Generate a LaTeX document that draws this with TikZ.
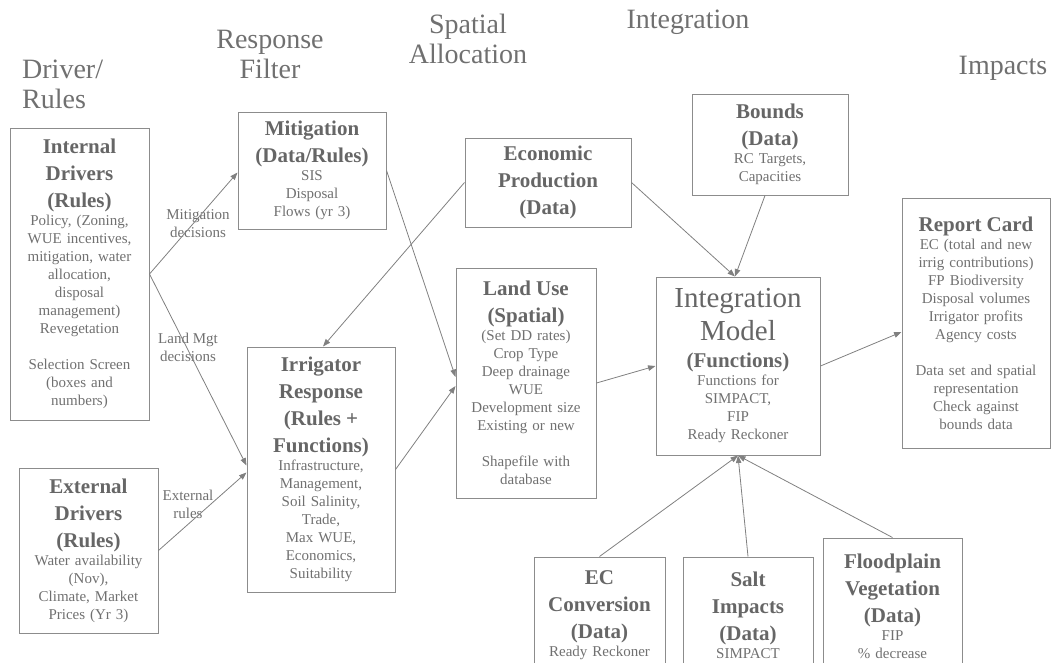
\documentclass[tikz,border=0pt]{standalone}
\usepackage{fontspec}
\setmainfont{Liberation Serif}
\usetikzlibrary{arrows.meta}
\definecolor{flowtext}{RGB}{112,112,112}
\definecolor{flowtitle}{RGB}{102,102,102}
\definecolor{flowline}{RGB}{140,140,140}
\definecolor{flowarrow}{RGB}{128,128,128}
\newcommand\ttl[1]{{\fontsize{21}{27}\selectfont\bfseries\color{flowtitle}#1\par}}
\newcommand\bigttl[1]{{\fontsize{29}{33}\selectfont\color{flowtitle}#1\par}}

\begin{document}
\begin{tikzpicture}[x=1pt,y=-1pt,font=\fontsize{15}{18}\selectfont,
 box/.style={draw=flowline,line width=1pt,align=center,text=flowtext,
  inner xsep=4pt,inner ysep=0pt},
 head/.style={font=\fontsize{28}{30}\selectfont,text=flowtext,inner sep=0pt},
 lbl/.style={text=flowtext,align=center,inner sep=0pt},
 arr/.style={-{Triangle[length=7.5pt,width=5.5pt]},draw=flowarrow,line width=.8pt}]
\useasboundingbox (0,0) rectangle (1053,662);
\clip (0,0) rectangle (1053,662);

% column headings
\node[head,align=left,anchor=west] (hdrv) at (22,84) {Driver/\\Rules};
\node[head,align=center] (hresp) at (270,54) {Response\\Filter};
\node[head,align=center] (hspat) at (468,39) {Spatial\\Allocation};
\node[head] (hint) at (688,22) {Integration};
\node[head] (himp) at (1003,68) {Impacts};

% boxes
\node[box,text width=131pt,minimum height=292pt] (intdrv) at (79.5,274)
 {\ttl{Internal}\ttl{Drivers}\ttl{(Rules)}Policy, (Zoning,\\WUE incentives,\\mitigation, water\\allocation,\\disposal\\management)\\Revegetation\\[18pt]Selection Screen\\(boxes and\\numbers)};
\node[box,text width=131pt,minimum height=165pt] (extdrv) at (88.5,550.5)
 {\ttl{External}\ttl{Drivers}\ttl{(Rules)}Water availability\\(Nov),\\Climate, Market\\Prices (Yr 3)};
\node[box,text width=140pt,minimum height=117pt] (mitig) at (312,170.5)
 {\ttl{Mitigation}\ttl{(Data/Rules)}SIS\\Disposal\\Flows (yr 3)};
\node[box,text width=140pt,minimum height=245pt] (irrig) at (321,469.5)
 {\ttl{Irrigator}\ttl{Response}\ttl{(Rules +}\ttl{Functions)}Infrastructure,\\Management,\\Soil Salinity,\\Trade,\\Max WUE,\\Economics,\\Suitability};
\node[box,text width=158pt,minimum height=89pt] (econ) at (548,182.5)
 {\ttl{Economic}\ttl{Production}\ttl{(Data)}};
\node[box,text width=132pt,minimum height=230pt] (landuse) at (526,383)
 {\ttl{Land Use}\ttl{(Spatial)}(Set DD rates)\\Crop Type\\Deep drainage\\WUE\\Development size\\Existing or new\\[18pt]Shapefile with\\database};
\node[box,text width=148pt,minimum height=101pt] (bounds) at (770,144.5)
 {\ttl{Bounds}\ttl{(Data)}RC Targets,\\Capacities};
\node[box,text width=156pt,minimum height=178pt] (integ) at (738,366)
 {\bigttl{Integration}\bigttl{Model}\ttl{(Functions)}Functions for\\SIMPACT,\\FIP\\Ready Reckoner};
\node[box,text width=140pt,minimum height=250pt] (report) at (976,323)
 {\ttl{Report Card}EC (total and new\\irrig contributions)\\FP Biodiversity\\Disposal volumes\\Irrigator profits\\Agency costs\\[18pt]Data set and spatial\\representation\\Check against\\bounds data};
\node[box,text width=123pt,minimum height=116pt] (ecconv) at (599.5,615)
 {\ttl{EC}\ttl{Conversion}\ttl{(Data)}Ready Reckoner};
\node[box,text width=122pt,minimum height=116pt] (salt) at (748,615)
 {\ttl{Salt}\ttl{Impacts}\ttl{(Data)}SIMPACT};
\node[box,text width=131pt,minimum height=136pt] (flood) at (892.5,606)
 {\ttl{Floodplain}\ttl{Vegetation}\ttl{(Data)}FIP\\\% decrease};

% connector labels
\node[lbl] (lblmit) at (198,224) {Mitigation\\decisions};
\node[lbl] (lblland) at (188,347) {Land Mgt\\decisions};
\node[lbl] (lblext) at (188,504) {External\\rules};

% connectors
\draw[arr] (intdrv.east) -- ([yshift=-2]mitig.west);
\draw[arr] (intdrv.east) -- ([yshift=4]irrig.west);
\draw[arr] (extdrv.east) -- ([yshift=-3]irrig.west);
\draw[arr] (mitig.east) -- ([yshift=6]landuse.west);
\draw[arr] (irrig.east) -- ([yshift=-3]landuse.west);
\draw[arr] (econ.west) -- ([xshift=2]irrig.north);
\draw[arr] (econ.east) -- ([xshift=-3]integ.north);
\draw[arr] ([xshift=-5]bounds.south) -- ([xshift=-3]integ.north);
\draw[arr] (landuse.east) -- (integ.west);
\draw[arr] (integ.east) -- ([yshift=-9]report.west);
\draw[arr] (ecconv.north) -- (integ.south);
\draw[arr] (salt.north) -- (integ.south);
\draw[arr] (flood.north) -- (integ.south);
\end{tikzpicture}
\end{document}
